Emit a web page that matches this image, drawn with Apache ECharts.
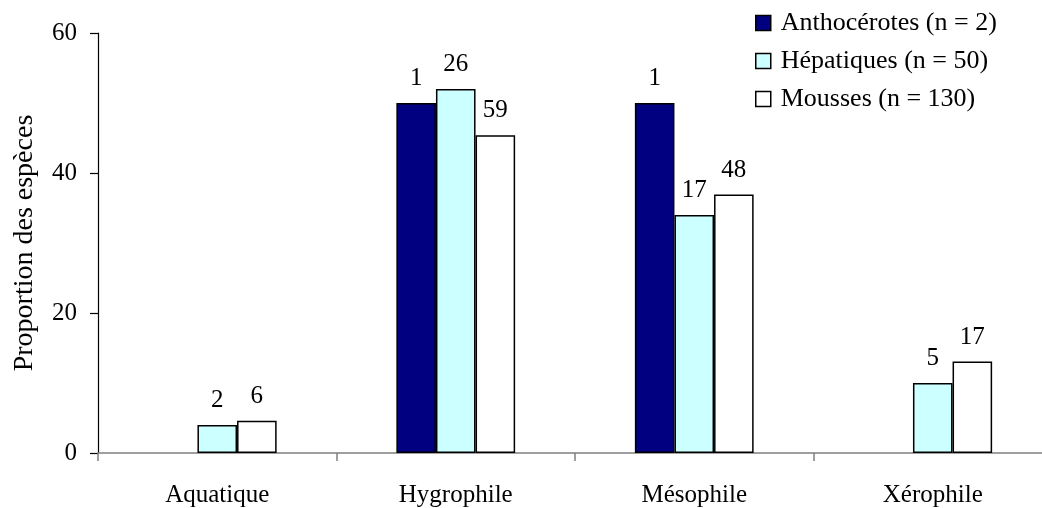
<!DOCTYPE html>
<html>
<head>
<meta charset="utf-8">
<script src="https://cdn.jsdelivr.net/npm/echarts@6/dist/echarts.min.js"></script>
<style>
  html, body { margin: 0; padding: 0; background: #ffffff; overflow: hidden; }
  /* the category axis runs a little past the right edge of the window */
  #chart { width: 1052px; height: 508px; }
</style>
</head>
<body>
<div id="chart"></div>
<script>
// Habitat categories
const categories = ['Aquatique', 'Hygrophile', 'Mésophile', 'Xérophile'];

// Number of species per habitat (null = none)
const anthoCounts = [null, 1, 1, null];
const hepatCounts = [2, 26, 17, 5];
const moussCounts = [6, 59, 48, 17];

// Group totals shown in the legend
const anthoTotal = 2;
const hepatTotal = 50;
const moussTotal = 130;

const seriesNames = ['Anthocérotes (n = 2)', 'Hépatiques (n = 50)', 'Mousses (n = 130)'];
const yTicks = [0, 20, 40, 60];

const FONT = '"Liberation Serif", "Times New Roman", serif';

// Bar height = share of the group (%), label = raw count
function toItems(counts, total) {
  return counts.map(c => c == null ? { value: null } : { value: c / total * 100, count: c });
}

function barSeries(name, counts, total, color) {
  return {
    name: name,
    type: 'bar',
    data: toItems(counts, total),
    barWidth: '16.6%',
    barGap: '0%',
    itemStyle: { color: color, borderColor: '#000000', borderWidth: 1.5 },
    label: {
      show: true,
      position: 'top',
      distance: 12,
      color: '#000000',
      fontFamily: FONT,
      fontSize: 25,
      formatter: p => p.data && p.data.count != null ? String(p.data.count) : ''
    },
    emphasis: { disabled: true }
  };
}

const chart = echarts.init(document.getElementById('chart'), null, { renderer: 'canvas' });

chart.setOption({
  animation: false,
  backgroundColor: '#ffffff',
  grid: { left: 98, right: 0, top: 33, bottom: 55, containLabel: false },
  legend: {
    orient: 'vertical',
    left: 755,
    top: 10,
    padding: 0,
    itemWidth: 15,
    itemHeight: 15,
    itemGap: 12,
    icon: 'rect',
    textStyle: { fontFamily: FONT, fontSize: 26, color: '#000000', padding: [0, 0, 0, 5] },
    data: seriesNames.map(n => ({ name: n, itemStyle: { borderColor: '#000000', borderWidth: 1.5 } }))
  },
  xAxis: {
    type: 'category',
    data: categories,
    boundaryGap: true,
    axisLine: { lineStyle: { color: '#808080', width: 1.5 } },
    axisTick: { show: true, length: 8, inside: false, lineStyle: { color: '#808080', width: 1.5 } },
    axisLabel: { fontFamily: FONT, fontSize: 25, color: '#000000', margin: 30, interval: 0 },
    splitLine: { show: false }
  },
  yAxis: {
    type: 'value',
    min: yTicks[0],
    max: yTicks[yTicks.length - 1],
    interval: 20,
    name: 'Proportion des espèces',
    nameLocation: 'middle',
    nameGap: 59,
    nameRotate: 90,
    nameTextStyle: { fontFamily: FONT, fontSize: 28, color: '#000000' },
    axisLine: { show: true, lineStyle: { color: '#000000', width: 1.2 } },
    axisTick: { show: true, length: 8, lineStyle: { color: '#000000', width: 1.2 } },
    axisLabel: { fontFamily: FONT, fontSize: 25, color: '#000000', margin: 21 },
    splitLine: { show: false }
  },
  series: [
    barSeries(seriesNames[0], anthoCounts, anthoTotal, '#000080'),
    barSeries(seriesNames[1], hepatCounts, hepatTotal, '#CCFFFF'),
    barSeries(seriesNames[2], moussCounts, moussTotal, '#FFFFFF')
  ]
});
</script>
</body>
</html>
